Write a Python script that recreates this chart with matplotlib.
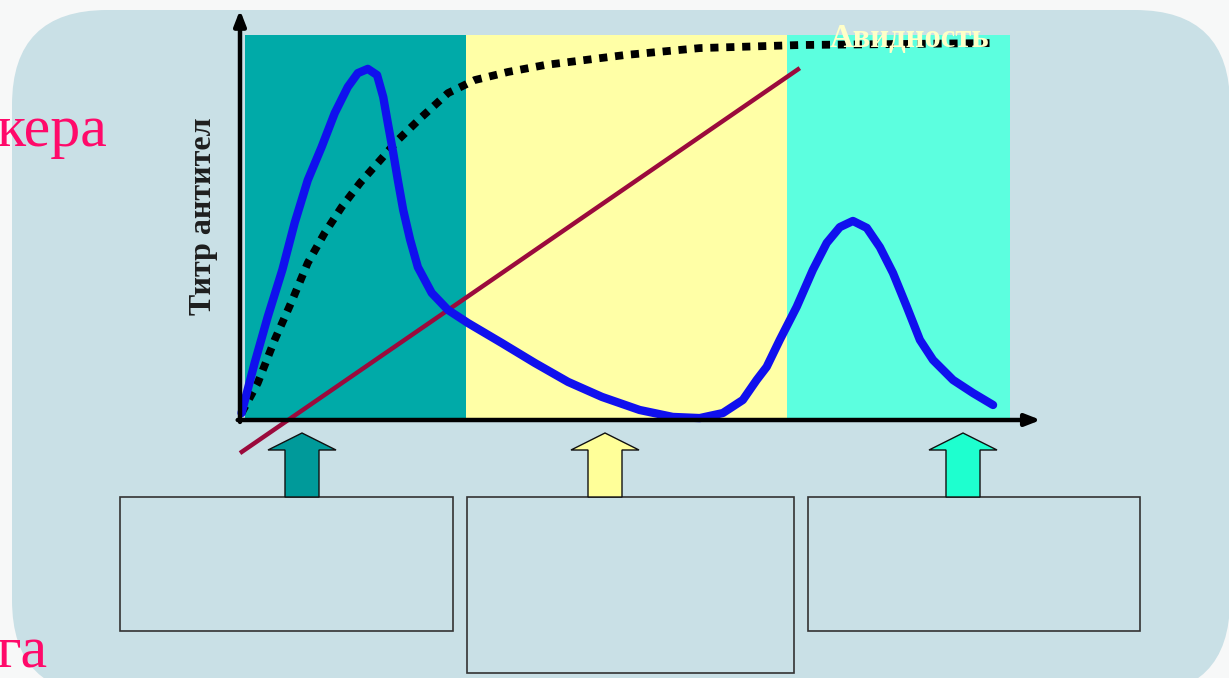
import matplotlib
matplotlib.use("Agg")
import matplotlib.pyplot as plt
from matplotlib.patches import FancyBboxPatch, FancyArrow, Rectangle

# ---- data ---------------------------------------------------------------
# Antibody titre over time (arbitrary units, 0..100)
titre_t = [0.2, 1.9, 3.6, 5.5, 7.1, 8.8, 10.6, 12.3, 14.0, 15.3, 16.6, 17.8,
           18.6, 19.2, 19.9, 20.5, 21.2, 22.1, 23.1, 24.9, 27.0, 29.6, 34.0,
           38.3, 42.6, 47.0, 51.9, 56.2, 59.7, 62.7, 65.3, 67.1, 68.4, 70.1,
           72.3, 74.4, 76.2, 77.9, 79.6, 81.4, 83.1, 84.8, 86.6, 88.3, 90.0,
           92.6, 95.2, 97.8]
titre_v = [1.8, 14.8, 26.8, 39.0, 51.2, 62.3, 70.9, 79.7, 86.5, 90.1, 91.2,
           89.6, 83.9, 77.1, 69.4, 62.3, 54.5, 46.8, 39.7, 33.0, 28.6, 25.2,
           20.0, 14.8, 9.9, 6.0, 2.6, 0.8, 0.5, 1.8, 5.2, 10.4, 13.8, 20.8,
           29.4, 39.0, 46.0, 50.1, 51.7, 49.9, 44.9, 38.2, 29.4, 20.8, 15.6,
           10.4, 7.0, 3.9]

# Avidity (dotted curve)
avid_t = [0.2, 2.3, 4.5, 6.8, 8.8, 11.0, 13.2, 15.6, 17.9, 20.5, 23.6, 27.0,
          30.5, 34.8, 39.6, 44.8, 50.0, 59.7, 72.7, 97.4]
avid_v = [1.8, 9.6, 20.8, 31.2, 40.8, 48.6, 55.3, 61.6, 66.8, 72.7, 78.7,
          84.9, 88.3, 90.4, 92.2, 93.5, 94.8, 96.6, 97.4, 97.9]

# Straight trend line
trend_t = [0, 72.7]
trend_v = [-8.6, 91.4]

# Phase boundaries along the time axis
phase_edges = [0.65, 29.35, 71.04, 100]
phase_colors = ["#00aaa8", "#ffffa6", "#5cffdf"]
arrow_colors = ["#009a9a", "#ffff99", "#1effcf"]

W, H = 1229, 678
fig = plt.figure(figsize=(W / 100, H / 100), dpi=100)
fig.patch.set_facecolor("#f7f8f8")

# ---- background / decorations in pixel coordinates -----------------------
bg = fig.add_axes([0, 0, 1, 1])
bg.set_xlim(0, W)
bg.set_ylim(H, 0)
bg.axis("off")

R = 95
panel = FancyBboxPatch((12 + R, 10 + R), 1230 - 12 - 2 * R, 695 - 10 - 2 * R,
                       boxstyle=f"round,pad={R}", facecolor="#c9e0e6",
                       edgecolor="none")
bg.add_patch(panel)

serif = ["Liberation Serif", "DejaVu Serif"]
bg.text(-3, 146, "кера", color="#ff0a6a", fontsize=43, family=serif,
        ha="left", va="baseline")
bg.text(-3, 667, "га", color="#ff0a6a", fontsize=43, family=serif,
        ha="left", va="baseline")

# description boxes
for (x0, y0, x1, y1) in [(120, 497, 453, 631), (467, 497, 794, 673),
                         (808, 497, 1140, 631)]:
    bg.add_patch(Rectangle((x0, y0), x1 - x0, y1 - y0, facecolor="none",
                           edgecolor="#333333", lw=1.2))

# block arrows pointing at each phase
for cx, col in zip([302, 605, 963], arrow_colors):
    bg.add_patch(FancyArrow(cx, 497, 0, -64, width=34, head_width=68,
                            head_length=17, length_includes_head=True,
                            facecolor=col, edgecolor="#111111", lw=1.0))

# ---- chart axes ---------------------------------------------------------
ax = fig.add_axes([240 / W, (H - 420) / H, 770 / W, 385 / H])
ax.set_xlim(0, 100)
ax.set_ylim(0, 100)
ax.axis("off")

for i, col in enumerate(phase_colors):
    ax.axvspan(phase_edges[i], phase_edges[i + 1], 0, 1, color=col, lw=0,
               zorder=0)

ax.plot(trend_t, trend_v, color="#9b0a3c", lw=3.2, clip_on=False, zorder=2,
        solid_capstyle="butt")
ax.plot(avid_t, avid_v, color="black", lw=5.6, ls=(0, (1.05, 1.0)),
        clip_on=False, zorder=3, dash_capstyle="butt")
ax.plot(titre_t, titre_v, color="#1010ee", lw=6.0, clip_on=False, zorder=4,
        solid_capstyle="round", solid_joinstyle="round")

# axis lines with arrow tips
ax.annotate("", xy=(0, 1.065), xytext=(0, -0.005), xycoords="axes fraction",
            arrowprops=dict(arrowstyle="-|>,head_length=0.9,head_width=0.35",
                            color="black", lw=3.2, shrinkA=0, shrinkB=0),
            zorder=5)
ax.annotate("", xy=(1.04, 0), xytext=(-0.003, 0), xycoords="axes fraction",
            arrowprops=dict(arrowstyle="-|>,head_length=0.9,head_width=0.35",
                            color="black", lw=3.2, shrinkA=0, shrinkB=0),
            zorder=5)

ax.text(-0.048, 0.53, "Титр антител", transform=ax.transAxes, rotation=90,
        ha="center", va="center", fontsize=23, fontweight="bold",
        family=serif, color="#1e1e1e")
ax.text(0.87, 0.99, "Авидность", transform=ax.transAxes, ha="center",
        va="center", fontsize=23.5, fontweight="bold", family=serif,
        color="#ffffc8", zorder=6)

fig.savefig("out.png", dpi=100, facecolor=fig.get_facecolor())
